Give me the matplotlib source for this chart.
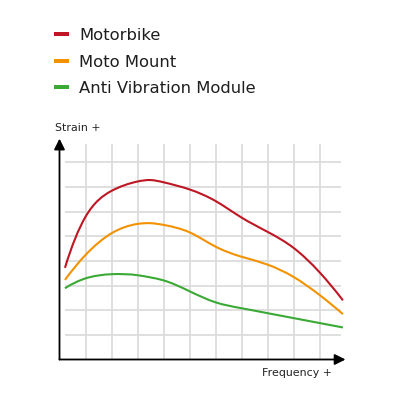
import numpy as np
import matplotlib
matplotlib.use("Agg")
import matplotlib.pyplot as plt
from matplotlib.path import Path
from matplotlib.patches import PathPatch, Rectangle

# ---- data ----
freq = [0.21, 1, 2, 3, 3.5, 4, 5, 6, 7, 8, 9, 10, 10.9]
motorbike = [3.72, 5.79, 6.84, 7.22, 7.28, 7.19, 6.90, 6.43, 5.76, 5.18, 4.53, 3.54, 2.40]
moto_mount = [3.23, 4.24, 5.12, 5.50, 5.53, 5.46, 5.16, 4.58, 4.17, 3.85, 3.35, 2.62, 1.84]
anti_vib = [2.89, 3.29, 3.46, 3.42, 3.33, 3.21, 2.77, 2.32, 2.08, 1.88, 1.68, 1.48, 1.30]
series_names = ["Motorbike", "Moto Mount", "Anti Vibration Module"]
series_colors = ["#be1622", "#f39200", "#3aa935"]
x_label = "Frequency +"
y_label = "Strain +"

FONT = ["DejaVu Sans"]


def spline_slopes(x, y):
    """Slopes of a C2 cubic spline through the points (parabolic end conditions)."""
    x = np.asarray(x, float)
    y = np.asarray(y, float)
    n = len(x)
    h = np.diff(x)
    d = np.diff(y) / h
    A = np.zeros((n, n))
    b = np.zeros(n)
    A[0, 0], A[0, 1], b[0] = 1, 1, 2 * d[0]
    A[-1, -2], A[-1, -1], b[-1] = 1, 1, 2 * d[-1]
    for i in range(1, n - 1):
        A[i, i - 1] = h[i]
        A[i, i] = 2 * (h[i - 1] + h[i])
        A[i, i + 1] = h[i - 1]
        b[i] = 3 * (h[i] * d[i - 1] + h[i - 1] * d[i])
    return np.linalg.solve(A, b)


def smooth_path(xs, ys):
    """Cubic spline through the data points, drawn as Bezier segments."""
    m = spline_slopes(xs, ys)
    verts = [(xs[0], ys[0])]
    codes = [Path.MOVETO]
    for i in range(len(xs) - 1):
        h = xs[i + 1] - xs[i]
        verts += [(xs[i] + h / 3, ys[i] + m[i] * h / 3),
                  (xs[i + 1] - h / 3, ys[i + 1] - m[i + 1] * h / 3),
                  (xs[i + 1], ys[i + 1])]
        codes += [Path.CURVE4] * 3
    return Path(verts, codes)


fig = plt.figure(figsize=(4, 4), dpi=100)
ax = fig.add_axes([0, 0, 1, 1])
ax.set_xlim(-59.5 / 26, 340.5 / 26)
ax.set_ylim(-40.5 / 24.65, 359.5 / 24.65)
ax.axis("off")

# grid
grid_c = "#dcdcdc"
for gx in range(1, 11):
    ax.plot([gx, gx], [0, 8.76], color=grid_c, lw=1.3, zorder=1, solid_capstyle="butt")
for gy in range(1, 9):
    ax.plot([0.21, 10.83], [gy, gy], color=grid_c, lw=1.3, zorder=1, solid_capstyle="butt")

# curves
for ys, c in zip([motorbike, moto_mount, anti_vib], series_colors):
    ax.add_patch(PathPatch(smooth_path(freq, ys), facecolor="none", edgecolor=c,
                           lw=1.5, zorder=3, capstyle="butt"))

# axes with arrows
arrow = dict(arrowstyle="-|>,head_length=0.4,head_width=0.2", lw=1.3, color="black",
             mutation_scale=16, shrinkA=0, shrinkB=0)
ax.annotate("", xy=(0, 8.96), xytext=(0, 0), arrowprops=arrow, zorder=4)
ax.annotate("", xy=(11.0, 0), xytext=(0, 0), arrowprops=arrow, zorder=4)

ax.text(-0.17, 9.28, y_label, fontsize=7.9, family=FONT, ha="left", va="baseline", color="#222222")
ax.text(10.48, -0.67, x_label, fontsize=7.9, family=FONT, ha="right", va="baseline", color="#222222")

# legend
leg_y = [(359.5 - 34.3) / 24.65, (359.5 - 60.7) / 24.65, (359.5 - 86.7) / 24.65]
for name, c, ly in zip(series_names, series_colors, leg_y):
    ax.add_patch(Rectangle((-0.21, ly - 0.08), 0.58, 0.16, facecolor=c, edgecolor="none"))
    ax.text(0.76, ly, name, fontsize=11.8, family=FONT, ha="left", va="center_baseline",
            color="#1e1e1e")

fig.savefig("out.png", dpi=100)
